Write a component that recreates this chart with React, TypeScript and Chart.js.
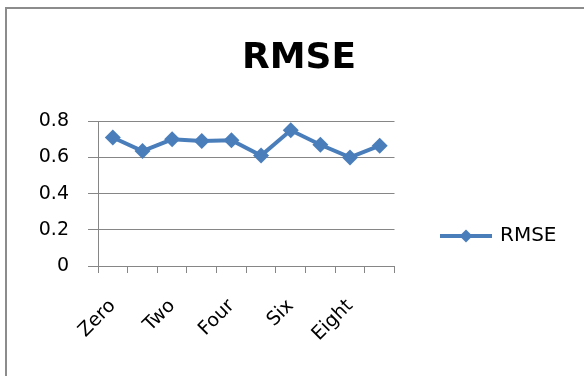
import React, { useEffect, useRef } from 'react';
import { Chart, registerables } from 'chart.js';

Chart.register(...registerables);

// Data
const categories = ['Zero', 'One', 'Two', 'Three', 'Four', 'Five', 'Six', 'Seven', 'Eight', 'Nine'];
const rmseValues = [0.71, 0.635, 0.7, 0.69, 0.695, 0.61, 0.75, 0.67, 0.6, 0.665];
const yTickValues = [0, 0.2, 0.4, 0.6, 0.8];
const seriesLabel = 'RMSE';
const chartTitle = 'RMSE';

const LINE_BLUE = '#4a7ebb';
const AXIS_GRAY = '#868686';
const FONT = 'DejaVu Sans';

const CANVAS_W = 576;
const CANVAS_H = 454;
const PLOT_BOTTOM = 257;

// Legend swatch: a short line with a diamond in the middle
function makeSwatch(): HTMLCanvasElement {
  const c = document.createElement('canvas');
  c.width = 54;
  c.height = 16;
  const ctx = c.getContext('2d')!;
  ctx.strokeStyle = LINE_BLUE;
  ctx.lineWidth = 4;
  ctx.beginPath();
  ctx.moveTo(1, 8);
  ctx.lineTo(53, 8);
  ctx.stroke();
  ctx.fillStyle = LINE_BLUE;
  ctx.beginPath();
  ctx.moveTo(27, 1.5);
  ctx.lineTo(33.5, 8);
  ctx.lineTo(27, 14.5);
  ctx.lineTo(20.5, 8);
  ctx.closePath();
  ctx.fill();
  return c;
}

export default function App() {
  const canvasRef = useRef<HTMLCanvasElement | null>(null);

  useEffect(() => {
    if (!canvasRef.current) return;
    const swatch = makeSwatch();
    Chart.defaults.font.family = FONT;

    const chart = new Chart(canvasRef.current, {
      type: 'line',
      data: {
        labels: categories,
        datasets: [
          {
            label: seriesLabel,
            data: rmseValues,
            borderColor: LINE_BLUE,
            backgroundColor: LINE_BLUE,
            borderWidth: 4,
            pointStyle: 'rectRot',
            pointRadius: 8,
            pointHoverRadius: 8,
            pointBorderWidth: 0,
            pointBackgroundColor: LINE_BLUE,
            tension: 0,
            yAxisID: 'y',
          },
        ],
      },
      options: {
        responsive: false,
        animation: false,
        layout: { padding: { left: 33, right: 25, top: 0, bottom: 0 } },
        plugins: {
          title: {
            display: true,
            text: chartTitle,
            color: '#000',
            font: { family: FONT, size: 36, weight: 'bold' },
            padding: { top: 28, bottom: 41 },
          },
          legend: {
            display: true,
            position: 'right',
            maxWidth: 126,
            labels: {
              color: '#000',
              font: { family: FONT, size: 20 },
              usePointStyle: true,
              pointStyleWidth: 48,
              padding: 10,
              generateLabels: (c: Chart) => {
                const items = Chart.defaults.plugins.legend.labels.generateLabels(c);
                items.forEach((it: any) => {
                  it.pointStyle = swatch;
                });
                return items;
              },
            },
          },
          tooltip: { enabled: false },
        },
        scales: {
          x: {
            type: 'category',
            offset: true,
            grid: {
              display: true,
              offset: true,
              drawOnChartArea: false,
              drawTicks: true,
              tickLength: 7,
              color: AXIS_GRAY,
            },
            border: { display: true, color: AXIS_GRAY },
            ticks: {
              autoSkip: false,
              minRotation: 45,
              maxRotation: 45,
              padding: 22,
              color: '#000',
              font: { family: FONT, size: 19 },
              callback: (_v: any, i: number) => (i % 2 === 0 ? categories[i] : ''),
            },
            afterFit: (s: any) => {
              s.height = CANVAS_H - PLOT_BOTTOM;
            },
          },
          y: {
            type: 'linear',
            position: 'left',
            min: yTickValues[0],
            max: yTickValues[yTickValues.length - 1],
            afterBuildTicks: (s: any) => {
              s.ticks = yTickValues.map((v) => ({ value: v }));
            },
            grid: {
              color: AXIS_GRAY,
              tickLength: 10,
              drawTicks: true,
            },
            border: { display: true, color: AXIS_GRAY },
            ticks: {
              padding: 19,
              color: '#000',
              font: { family: FONT, size: 19 },
              callback: (v: any) => String(Math.round(Number(v) * 10) / 10),
            },
            afterFit: (s: any) => {
              s.width = 58;
            },
          },
          legendGap: {
            type: 'linear',
            position: 'right',
            display: true,
            grid: { display: false },
            border: { display: false },
            ticks: { display: false },
            afterFit: (s: any) => {
              s.width = 37.5;
            },
          },
        },
      } as any,
    });

    return () => chart.destroy();
  }, []);

  return (
    <div style={{ position: 'fixed', inset: 0, overflow: 'hidden', background: '#fff' }}>
      <div
        style={{
          position: 'absolute',
          left: 5,
          top: 7,
          width: 640,
          height: 520,
          borderLeft: '2px solid #8c8c8c',
          borderTop: '2px solid #8c8c8c',
          background: '#fff',
        }}
      >
        <canvas
          ref={canvasRef}
          width={CANVAS_W}
          height={CANVAS_H}
          style={{ display: 'block', width: CANVAS_W, height: CANVAS_H }}
        />
      </div>
    </div>
  );
}
